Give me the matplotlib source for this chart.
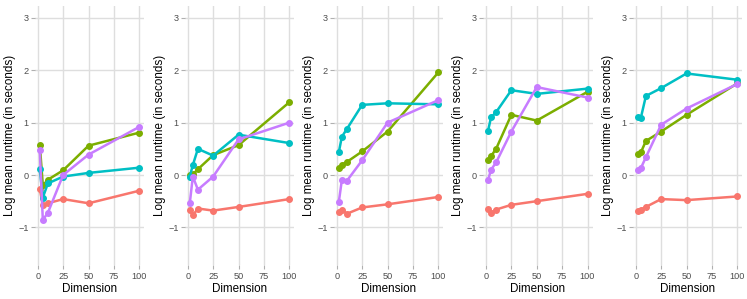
import matplotlib
matplotlib.use("Agg")
import matplotlib.pyplot as plt

plt.rcParams["font.family"] = ["Liberation Sans", "DejaVu Sans"]

dims = [2, 5, 10, 25, 50, 100]
colors = ["#F8766D", "#7CAE00", "#00BFC4", "#C77CFF"]

# each panel: red, green, cyan, purple
panel1 = [
    [-0.27, -0.57, -0.54, -0.46, -0.54, -0.30],
    [0.58, -0.20, -0.09, 0.09, 0.56, 0.81],
    [0.11, -0.43, -0.16, -0.03, 0.04, 0.14],
    [0.47, -0.86, -0.72, 0.00, 0.39, 0.92],
]
panel2 = [
    [-0.66, -0.77, -0.64, -0.68, -0.61, -0.46],
    [0.00, 0.01, 0.11, 0.38, 0.57, 1.39],
    [-0.03, 0.19, 0.50, 0.37, 0.77, 0.61],
    [-0.54, -0.03, -0.28, -0.03, 0.68, 1.00],
]
panel3 = [
    [-0.70, -0.66, -0.74, -0.62, -0.56, -0.42],
    [0.13, 0.20, 0.25, 0.45, 0.83, 1.96],
    [0.43, 0.73, 0.88, 1.34, 1.37, 1.35],
    [-0.52, -0.10, -0.11, 0.28, 1.00, 1.43],
]
panel4 = [
    [-0.64, -0.72, -0.66, -0.57, -0.50, -0.36],
    [0.28, 0.36, 0.50, 1.15, 1.04, 1.59],
    [0.84, 1.10, 1.20, 1.62, 1.55, 1.65],
    [-0.10, 0.10, 0.24, 0.83, 1.68, 1.48],
]
panel5 = [
    [-0.69, -0.66, -0.61, -0.46, -0.48, -0.41],
    [0.41, 0.43, 0.65, 0.83, 1.15, 1.75],
    [1.10, 1.09, 1.51, 1.66, 1.94, 1.82],
    [0.09, 0.13, 0.34, 0.96, 1.27, 1.74],
]
panels = [panel1, panel2, panel3, panel4, panel5]

xticks = [0, 25, 50, 75, 100]
yticks = [-1, 0, 1, 2, 3]
ytick_labels = ["\u22121", "0", "1", "2", "3"]

W, H = 747, 299
fig = plt.figure(figsize=(W / 100, H / 100), dpi=100)
fig.patch.set_facecolor("white")

lefts = [34.8, 184.8, 333.8, 483.0, 632.8]
pw = 109.5
top, bottom = 6.2, 265.3

for left, series in zip(lefts, panels):
    ax = fig.add_axes([left / W, 1 - bottom / H, pw / W, (bottom - top) / H])
    ax.set_facecolor("white")
    for c, vals in zip(colors, series):
        ax.plot(dims, vals, color=c, lw=1.8, marker="o", ms=4.0,
                solid_joinstyle="round", zorder=3)
    ax.set_xlim(-2.9, 104.9)
    ax.set_ylim(-1.725, 3.225)
    ax.set_xticks(xticks)
    ax.set_yticks(yticks)
    ax.set_yticklabels(ytick_labels)
    ax.grid(True, color="#DEDEDE", lw=1.0, zorder=0)
    for s in ax.spines.values():
        s.set_visible(False)
    ax.tick_params(axis="both", colors="#B0B0B0", length=3, width=0.8,
                   labelcolor="#4D4D4D", labelsize=6.6, pad=1.5)
    ax.set_xlabel("Dimension", fontsize=8.4, color="black", labelpad=1.5)
    ax.set_ylabel("Log mean runtime (in seconds)", fontsize=8.4,
                  color="black", labelpad=1.5)

fig.savefig("out.png", dpi=100, facecolor="white")
